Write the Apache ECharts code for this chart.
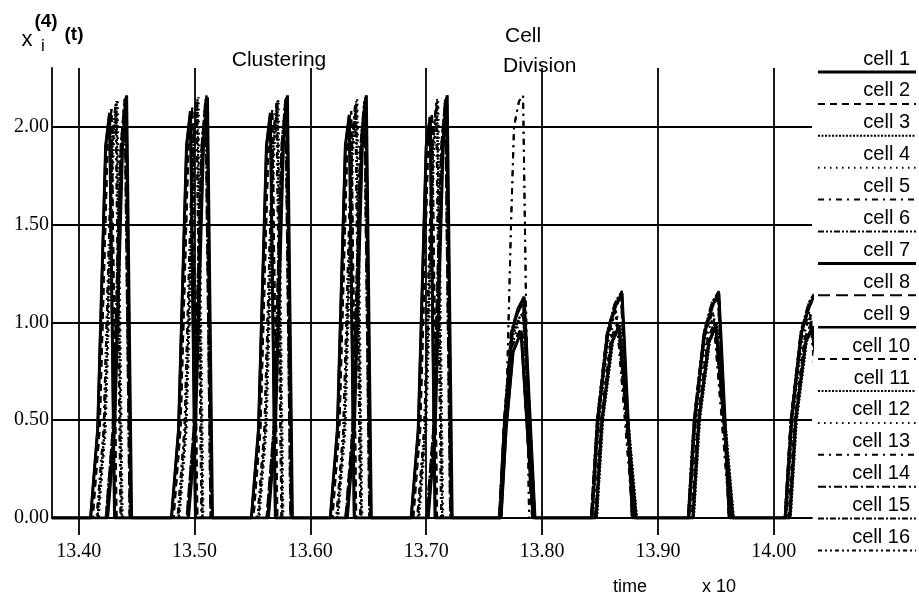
<!DOCTYPE html>
<html>
<head>
<meta charset="utf-8">
<script src="https://cdn.jsdelivr.net/npm/echarts@6/dist/echarts.min.js"></script>
<style>
  html, body { margin: 0; padding: 0; background: #fff; }
  #chart { width: 919px; height: 595px; }
</style>
</head>
<body>
<div id="chart"></div>
<script>
// Oscillator output x_i^(4)(t) for 16 cells: clustering, then cell division.
const cellNames = ['cell 1', 'cell 2', 'cell 3', 'cell 4', 'cell 5', 'cell 6', 'cell 7', 'cell 8',
                   'cell 9', 'cell 10', 'cell 11', 'cell 12', 'cell 13', 'cell 14', 'cell 15', 'cell 16'];
const xTicks = [13.40, 13.50, 13.60, 13.70, 13.80, 13.90, 14.00];
const yTicks = [0, 0.5, 1.0, 1.5, 2.0];

// Trajectories [time, value]; cells n and n+8 follow the same trajectory.
const wave1 = [
  [13.377, 0],
  [13.4103, 0], [13.4164, 0.45], [13.4233, 1.9], [13.4267, 2.07], [13.4310, 0],
  [13.4801, 0], [13.4862, 0.45], [13.4931, 1.9], [13.4965, 2.08], [13.5008, 0],
  [13.5491, 0], [13.5552, 0.45], [13.5621, 1.9], [13.5655, 2.07], [13.5698, 0],
  [13.6172, 0], [13.6233, 0.45], [13.6302, 1.9], [13.6336, 2.06], [13.6379, 0],
  [13.6870, 0], [13.6931, 0.45], [13.7000, 1.9], [13.7034, 2.05], [13.7077, 0],
  [13.7646, 0], [13.7689, 0.45], [13.7750, 0.85], [13.7819, 0.95], [13.7922, 0],
  [13.8466, 0], [13.8517, 0.5], [13.8603, 0.9], [13.8664, 0.98], [13.8810, 0],
  [13.9302, 0], [13.9353, 0.5], [13.9439, 0.9], [13.9500, 0.98], [13.9646, 0],
  [14.0138, 0], [14.0189, 0.5], [14.0275, 0.9], [14.0336, 0.98], [14.0482, 0]
];
const wave2 = [
  [13.377, 0],
  [13.4121, 0], [13.4181, 0.45], [13.4250, 1.9], [13.4284, 2.09], [13.4327, 0],
  [13.4819, 0], [13.4879, 0.45], [13.4948, 1.9], [13.4982, 2.10], [13.5025, 0],
  [13.5509, 0], [13.5569, 0.45], [13.5638, 1.9], [13.5672, 2.09], [13.5715, 0],
  [13.6190, 0], [13.6250, 0.45], [13.6319, 1.9], [13.6353, 2.08], [13.6396, 0],
  [13.6888, 0], [13.6948, 0.45], [13.7017, 1.9], [13.7051, 2.07], [13.7094, 0],
  [13.7638, 0], [13.7681, 0.45], [13.7741, 0.88], [13.7819, 0.97], [13.7914, 0],
  [13.8457, 0], [13.8509, 0.5], [13.8595, 0.92], [13.8655, 1.0], [13.8802, 0],
  [13.9293, 0], [13.9345, 0.5], [13.9431, 0.92], [13.9491, 1.0], [13.9638, 0],
  [14.0129, 0], [14.0181, 0.5], [14.0267, 0.92], [14.0327, 1.0], [14.0474, 0]
];
const wave3 = [
  [13.377, 0],
  [13.4164, 0], [13.4224, 0.45], [13.4293, 1.9], [13.4327, 2.13], [13.4371, 0],
  [13.4862, 0], [13.4922, 0.45], [13.4991, 1.9], [13.5025, 2.14], [13.5069, 0],
  [13.5552, 0], [13.5612, 0.45], [13.5681, 1.9], [13.5715, 2.13], [13.5759, 0],
  [13.6233, 0], [13.6293, 0.45], [13.6362, 1.9], [13.6396, 2.13], [13.6440, 0],
  [13.6931, 0], [13.6991, 0.45], [13.7060, 1.9], [13.7094, 2.14], [13.7138, 0],
  [13.7638, 0], [13.7681, 0.5], [13.7741, 0.92], [13.7801, 1.02], [13.7836, 1.05], [13.7931, 0],
  [13.8474, 0], [13.8526, 0.5], [13.8612, 0.9], [13.8672, 0.99], [13.8819, 0],
  [13.9310, 0], [13.9362, 0.5], [13.9448, 0.9], [13.9508, 0.99], [13.9655, 0],
  [14.0146, 0], [14.0198, 0.5], [14.0284, 0.9], [14.0344, 0.99], [14.0491, 0]
];
const wave4 = [
  [13.377, 0],
  [13.4172, 0], [13.4233, 0.45], [13.4302, 1.9], [13.4336, 2.14], [13.4379, 0],
  [13.4870, 0], [13.4931, 0.45], [13.5000, 1.9], [13.5034, 2.15], [13.5077, 0],
  [13.5560, 0], [13.5621, 0.45], [13.5690, 1.9], [13.5724, 2.14], [13.5767, 0],
  [13.6241, 0], [13.6302, 0.45], [13.6371, 1.9], [13.6405, 2.14], [13.6448, 0],
  [13.6939, 0], [13.7000, 0.45], [13.7069, 1.9], [13.7103, 2.13], [13.7146, 0],
  [13.7646, 0], [13.7689, 0.5], [13.7750, 0.9], [13.7801, 1.0], [13.7836, 1.04], [13.7922, 0],
  [13.8440, 0], [13.8491, 0.5], [13.8578, 0.92], [13.8647, 1.04], [13.8793, 0],
  [13.9276, 0], [13.9327, 0.5], [13.9414, 0.92], [13.9483, 1.04], [13.9629, 0],
  [14.0112, 0], [14.0163, 0.5], [14.0250, 0.92], [14.0319, 1.04], [14.0465, 0]
];
const wave5 = [
  [13.377, 0],
  [13.4155, 0], [13.4215, 0.45], [13.4284, 1.9], [13.4319, 2.12], [13.4362, 0],
  [13.4853, 0], [13.4913, 0.45], [13.4982, 1.9], [13.5017, 2.13], [13.5060, 0],
  [13.5543, 0], [13.5603, 0.45], [13.5672, 1.9], [13.5707, 2.12], [13.5750, 0],
  [13.6224, 0], [13.6284, 0.45], [13.6353, 1.9], [13.6388, 2.12], [13.6431, 0],
  [13.6922, 0], [13.6982, 0.45], [13.7051, 1.9], [13.7086, 2.12], [13.7129, 0],
  [13.7629, 0], [13.7689, 0.5], [13.7732, 1.5], [13.7758, 2.0], [13.7801, 2.13], [13.7836, 2.16], [13.7888, 0],
  [13.8431, 0], [13.8483, 0.5], [13.8569, 0.93], [13.8638, 1.06], [13.8784, 0],
  [13.9267, 0], [13.9319, 0.5], [13.9405, 0.93], [13.9474, 1.06], [13.9620, 0],
  [14.0103, 0], [14.0155, 0.5], [14.0241, 0.93], [14.0310, 1.06], [14.0456, 0]
];
const wave6 = [
  [13.377, 0],
  [13.4241, 0], [13.4302, 0.45], [13.4371, 1.9], [13.4405, 2.15], [13.4448, 0],
  [13.4939, 0], [13.5000, 0.45], [13.5069, 1.9], [13.5103, 2.16], [13.5146, 0],
  [13.5629, 0], [13.5690, 0.45], [13.5759, 1.9], [13.5793, 2.15], [13.5836, 0],
  [13.6310, 0], [13.6371, 0.45], [13.6440, 1.9], [13.6474, 2.15], [13.6517, 0],
  [13.7008, 0], [13.7069, 0.45], [13.7138, 1.9], [13.7172, 2.15], [13.7215, 0],
  [13.7629, 0], [13.7672, 0.5], [13.7732, 0.95], [13.7784, 1.06], [13.7845, 1.12], [13.7939, 0],
  [13.8422, 0], [13.8474, 0.5], [13.8560, 0.95], [13.8629, 1.1], [13.8690, 1.16], [13.8776, 0],
  [13.9258, 0], [13.9310, 0.5], [13.9396, 0.95], [13.9465, 1.1], [13.9526, 1.16], [13.9612, 0],
  [14.0094, 0], [14.0146, 0.5], [14.0232, 0.95], [14.0301, 1.1], [14.0362, 1.16], [14.0448, 0]
];
const wave7 = [
  [13.377, 0],
  [13.4250, 0], [13.4310, 0.45], [13.4379, 1.9], [13.4414, 2.16], [13.4457, 0],
  [13.4948, 0], [13.5008, 0.45], [13.5077, 1.9], [13.5112, 2.15], [13.5155, 0],
  [13.5638, 0], [13.5698, 0.45], [13.5767, 1.9], [13.5802, 2.16], [13.5845, 0],
  [13.6319, 0], [13.6379, 0.45], [13.6448, 1.9], [13.6483, 2.16], [13.6526, 0],
  [13.7017, 0], [13.7077, 0.45], [13.7146, 1.9], [13.7181, 2.16], [13.7224, 0],
  [13.7638, 0], [13.7681, 0.5], [13.7741, 0.95], [13.7793, 1.07], [13.7845, 1.13], [13.7939, 0],
  [13.8431, 0], [13.8483, 0.5], [13.8569, 0.95], [13.8638, 1.09], [13.8690, 1.15], [13.8784, 0],
  [13.9267, 0], [13.9319, 0.5], [13.9405, 0.95], [13.9474, 1.09], [13.9526, 1.15], [13.9620, 0],
  [14.0103, 0], [14.0155, 0.5], [14.0241, 0.95], [14.0310, 1.09], [14.0362, 1.15], [14.0456, 0]
];
const wave8 = [
  [13.377, 0],
  [13.4233, 0], [13.4293, 0.45], [13.4362, 1.9], [13.4396, 2.14], [13.4439, 0],
  [13.4931, 0], [13.4991, 0.45], [13.5060, 1.9], [13.5094, 2.14], [13.5137, 0],
  [13.5621, 0], [13.5681, 0.45], [13.5750, 1.9], [13.5784, 2.14], [13.5827, 0],
  [13.6302, 0], [13.6362, 0.45], [13.6431, 1.9], [13.6465, 2.13], [13.6508, 0],
  [13.7000, 0], [13.7060, 0.45], [13.7129, 1.9], [13.7163, 2.14], [13.7206, 0],
  [13.7629, 0], [13.7672, 0.5], [13.7741, 0.95], [13.7793, 1.05], [13.7836, 1.10], [13.7931, 0],
  [13.8422, 0], [13.8474, 0.5], [13.8560, 0.94], [13.8629, 1.07], [13.8681, 1.13], [13.8776, 0],
  [13.9258, 0], [13.9310, 0.5], [13.9396, 0.94], [13.9465, 1.07], [13.9517, 1.13], [13.9612, 0],
  [14.0094, 0], [14.0146, 0.5], [14.0232, 0.94], [14.0301, 1.07], [14.0353, 1.13], [14.0448, 0]
];
const waves = [wave1, wave2, wave3, wave4, wave5, wave6, wave7, wave8];

// Line style of each cell (dash pattern and width)
const cellDash = [
  'solid', [7, 5], [2, 1.5], [1.5, 4.5], [6, 5, 2, 5], [6, 2, 2, 2, 2, 2], 'solid', [12, 6],
  'solid', [7, 5], [2, 1.5], [1.5, 4.5], [6, 5, 2, 5], [8, 3, 2, 3], [6, 2, 2, 2], [4, 3, 2, 3, 2, 3]
];
const cellWidth = [3, 2, 2, 2, 2, 2, 3, 2, 2.5, 2, 2, 2, 2, 2, 2, 2];

const SERIF = 'Liberation Serif';
const SANS = 'Liberation Sans';

const chart = echarts.init(document.getElementById('chart'), null, { renderer: 'canvas' });

const series = cellNames.map((name, i) => ({
  type: 'line',
  name: name,
  data: waves[i % waves.length],
  symbol: 'none',
  animation: false,
  silent: true,
  z: 3,
  lineStyle: { color: '#000', width: cellWidth[i], type: cellDash[i] }
}));

// Reference lines at every labelled value
series.push({
  type: 'line',
  name: 'grid',
  data: [[13.377, 0]],
  symbol: 'none',
  silent: true,
  animation: false,
  z: 2,
  lineStyle: { width: 0 },
  markLine: {
    silent: true,
    animation: false,
    symbol: ['none', 'none'],
    label: { show: false },
    lineStyle: { color: '#000', width: 1.8, type: 'solid' },
    emphasis: { disabled: true },
    data: yTicks.filter(v => v > 0).map(v => ({ yAxis: v }))
      .concat(xTicks.map(v => ({ xAxis: v })))
  }
});

// Legend: label above a sample of each line style
const legendGraphics = [];
cellNames.forEach((name, i) => {
  const lineY = 72 + 31.9 * i;
  legendGraphics.push({
    type: 'text',
    x: 910,
    y: lineY - 13,
    silent: true,
    style: {
      text: name, fill: '#000', fontSize: 20, fontFamily: SANS,
      textAlign: 'right', textVerticalAlign: 'middle'
    }
  });
  legendGraphics.push({
    type: 'line',
    silent: true,
    shape: { x1: 818, y1: lineY, x2: 916, y2: lineY },
    style: {
      stroke: '#000',
      lineWidth: cellWidth[i],
      lineDash: Array.isArray(cellDash[i]) ? cellDash[i] : null
    }
  });
});

const textGraphics = [
  { type: 'text', x: 27, y: 40, style: { text: 'x', fill: '#000', fontSize: 22, fontFamily: SANS, textAlign: 'center', textVerticalAlign: 'middle' } },
  { type: 'text', x: 46, y: 22, style: { text: '(4)', fill: '#000', fontSize: 19, fontWeight: 'bold', fontFamily: SANS, textAlign: 'center', textVerticalAlign: 'middle' } },
  { type: 'text', x: 43, y: 46, style: { text: 'i', fill: '#000', fontSize: 17, fontFamily: SANS, textAlign: 'center', textVerticalAlign: 'middle' } },
  { type: 'text', x: 74, y: 35, style: { text: '(t)', fill: '#000', fontSize: 19, fontWeight: 'bold', fontFamily: SANS, textAlign: 'center', textVerticalAlign: 'middle' } },
  { type: 'text', x: 279, y: 60, style: { text: 'Clustering', fill: '#000', fontSize: 21, fontFamily: SANS, textAlign: 'center', textVerticalAlign: 'middle' } },
  { type: 'text', x: 505, y: 36, style: { text: 'Cell', fill: '#000', fontSize: 21, fontFamily: SANS, textAlign: 'left', textVerticalAlign: 'middle' } },
  { type: 'text', x: 503, y: 66, style: { text: 'Division', fill: '#000', fontSize: 21, fontFamily: SANS, textAlign: 'left', textVerticalAlign: 'middle' } },
  { type: 'text', x: 630, y: 587, style: { text: 'time', fill: '#000', fontSize: 18, fontFamily: SANS, textAlign: 'center', textVerticalAlign: 'middle' } },
  { type: 'text', x: 719, y: 587, style: { text: 'x 10', fill: '#000', fontSize: 18, fontFamily: SANS, textAlign: 'center', textVerticalAlign: 'middle' } }
];

chart.setOption({
  animation: false,
  backgroundColor: '#fff',
  grid: { left: 52, right: 107, top: 68, bottom: 77, containLabel: false, outerBoundsMode: 'none' },
  xAxis: {
    type: 'value',
    min: 13.377,
    max: 14.033,
    axisLine: { show: true, onZero: false, lineStyle: { color: '#000', width: 1.8 } },
    axisTick: { show: true, customValues: xTicks, length: 17, inside: false, lineStyle: { color: '#000', width: 1.8 } },
    axisLabel: {
      show: true, customValues: xTicks, margin: 24,
      color: '#000', fontSize: 20, fontFamily: SERIF,
      formatter: v => Number(v).toFixed(2)
    },
    splitLine: { show: false }
  },
  yAxis: {
    type: 'value',
    min: 0,
    max: 2.3,
    axisLine: { show: true, onZero: false, lineStyle: { color: '#000', width: 1.8 } },
    axisTick: { show: false },
    axisLabel: {
      show: true, customValues: yTicks, margin: 3,
      color: '#000', fontSize: 20, fontFamily: SERIF,
      formatter: v => Number(v).toFixed(2)
    },
    splitLine: { show: false }
  },
  graphic: textGraphics.concat(legendGraphics),
  series: series
});
</script>
</body>
</html>
